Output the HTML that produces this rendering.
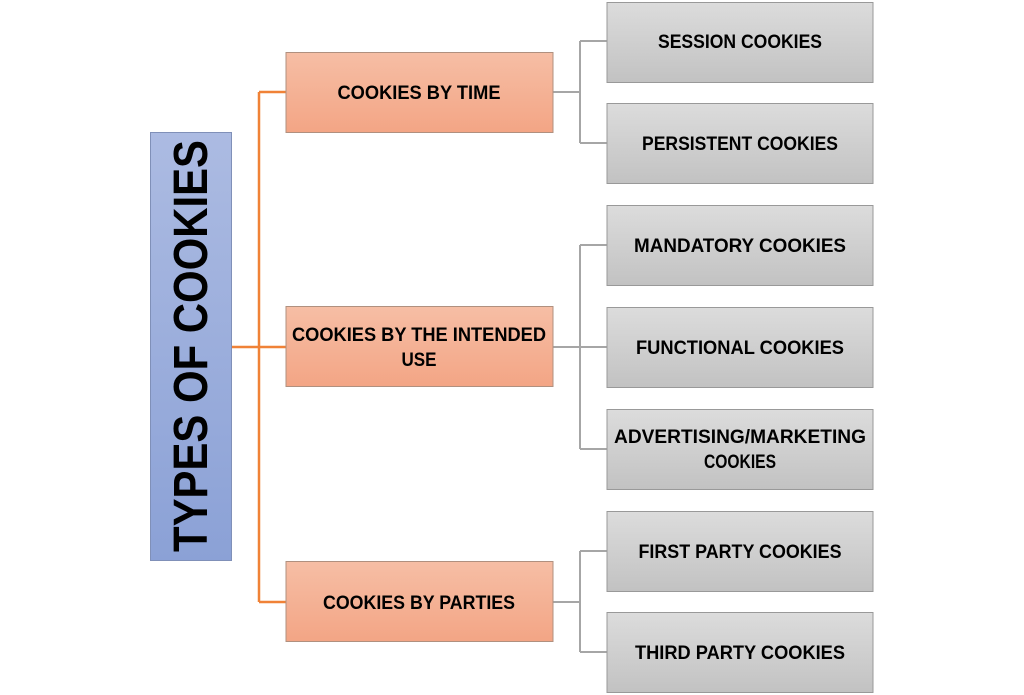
<!DOCTYPE html>
<html><head><style>html,body{margin:0;padding:0;background:#fff;width:1024px;height:695px;overflow:hidden}</style></head>
<body>
<svg width="1024" height="695" xmlns="http://www.w3.org/2000/svg" font-family="Liberation Sans, sans-serif" font-weight="bold">
<defs>
<linearGradient id="b" x1="0" y1="0" x2="0" y2="1"><stop offset="0" stop-color="#acbbe2"/><stop offset="1" stop-color="#8ba1d6"/></linearGradient>
<linearGradient id="o" x1="0" y1="0" x2="0" y2="1"><stop offset="0" stop-color="#f6bea5"/><stop offset="1" stop-color="#f3a585"/></linearGradient>
<linearGradient id="g" x1="0" y1="0" x2="0" y2="1"><stop offset="0" stop-color="#dcdcdc"/><stop offset="1" stop-color="#c2c2c2"/></linearGradient>
</defs>
<g stroke="#f08237" stroke-width="2.5" fill="none">
<line x1="232" y1="347" x2="286" y2="347"/>
<line x1="259" y1="92" x2="259" y2="602"/>
<line x1="259" y1="92" x2="286" y2="92"/>
<line x1="259" y1="602" x2="286" y2="602"/>
</g>
<g stroke="#a6a6a6" stroke-width="2" fill="none">
<line x1="553" y1="92" x2="580" y2="92"/><line x1="580" y1="41" x2="580" y2="143"/><line x1="580" y1="41" x2="607" y2="41"/><line x1="580" y1="143" x2="607" y2="143"/>
<line x1="553" y1="347" x2="607" y2="347"/><line x1="580" y1="245" x2="580" y2="449"/><line x1="580" y1="245" x2="607" y2="245"/><line x1="580" y1="449" x2="607" y2="449"/>
<line x1="553" y1="602" x2="580" y2="602"/><line x1="580" y1="551" x2="580" y2="652"/><line x1="580" y1="551" x2="607" y2="551"/><line x1="580" y1="652" x2="607" y2="652"/>
</g>
<rect x="150.5" y="132.5" width="81" height="428" fill="url(#b)" stroke="#8090b8"/>
<text transform="translate(207,346) rotate(-90)" text-anchor="middle" font-size="48" textLength="412" lengthAdjust="spacingAndGlyphs" fill="#000">TYPES OF COOKIES</text>
<g stroke="#b0907f" fill="url(#o)">
<rect x="286" y="52.5" width="267" height="80"/>
<rect x="286" y="306.5" width="267" height="80"/>
<rect x="286" y="561.5" width="267" height="80"/>
</g>
<g stroke="#999" fill="url(#g)">
<rect x="607" y="2.5" width="266" height="80"/>
<rect x="607" y="103.5" width="266" height="80"/>
<rect x="607" y="205.5" width="266" height="80"/>
<rect x="607" y="307.5" width="266" height="80"/>
<rect x="607" y="409.5" width="266" height="80"/>
<rect x="607" y="511.5" width="266" height="80"/>
<rect x="607" y="612.5" width="266" height="80"/>
</g>
<g font-size="19" text-anchor="middle" fill="#000">
<text x="419" y="99" textLength="163" lengthAdjust="spacingAndGlyphs">COOKIES BY TIME</text>
<text x="419" y="341" textLength="254" lengthAdjust="spacingAndGlyphs">COOKIES BY THE INTENDED</text>
<text x="419" y="366" textLength="35" lengthAdjust="spacingAndGlyphs">USE</text>
<text x="419" y="609" textLength="192" lengthAdjust="spacingAndGlyphs">COOKIES BY PARTIES</text>
<text x="740" y="48" textLength="164" lengthAdjust="spacingAndGlyphs">SESSION COOKIES</text>
<text x="740" y="150" textLength="196" lengthAdjust="spacingAndGlyphs">PERSISTENT COOKIES</text>
<text x="740" y="252" textLength="212" lengthAdjust="spacingAndGlyphs">MANDATORY COOKIES</text>
<text x="740" y="354" textLength="208" lengthAdjust="spacingAndGlyphs">FUNCTIONAL COOKIES</text>
<text x="740" y="443" textLength="252" lengthAdjust="spacingAndGlyphs">ADVERTISING/MARKETING</text>
<text x="740" y="468" textLength="72" lengthAdjust="spacingAndGlyphs">COOKIES</text>
<text x="740" y="558" textLength="203" lengthAdjust="spacingAndGlyphs">FIRST PARTY COOKIES</text>
<text x="740" y="659" textLength="210" lengthAdjust="spacingAndGlyphs">THIRD PARTY COOKIES</text>
</g>
</svg>
</body></html>
